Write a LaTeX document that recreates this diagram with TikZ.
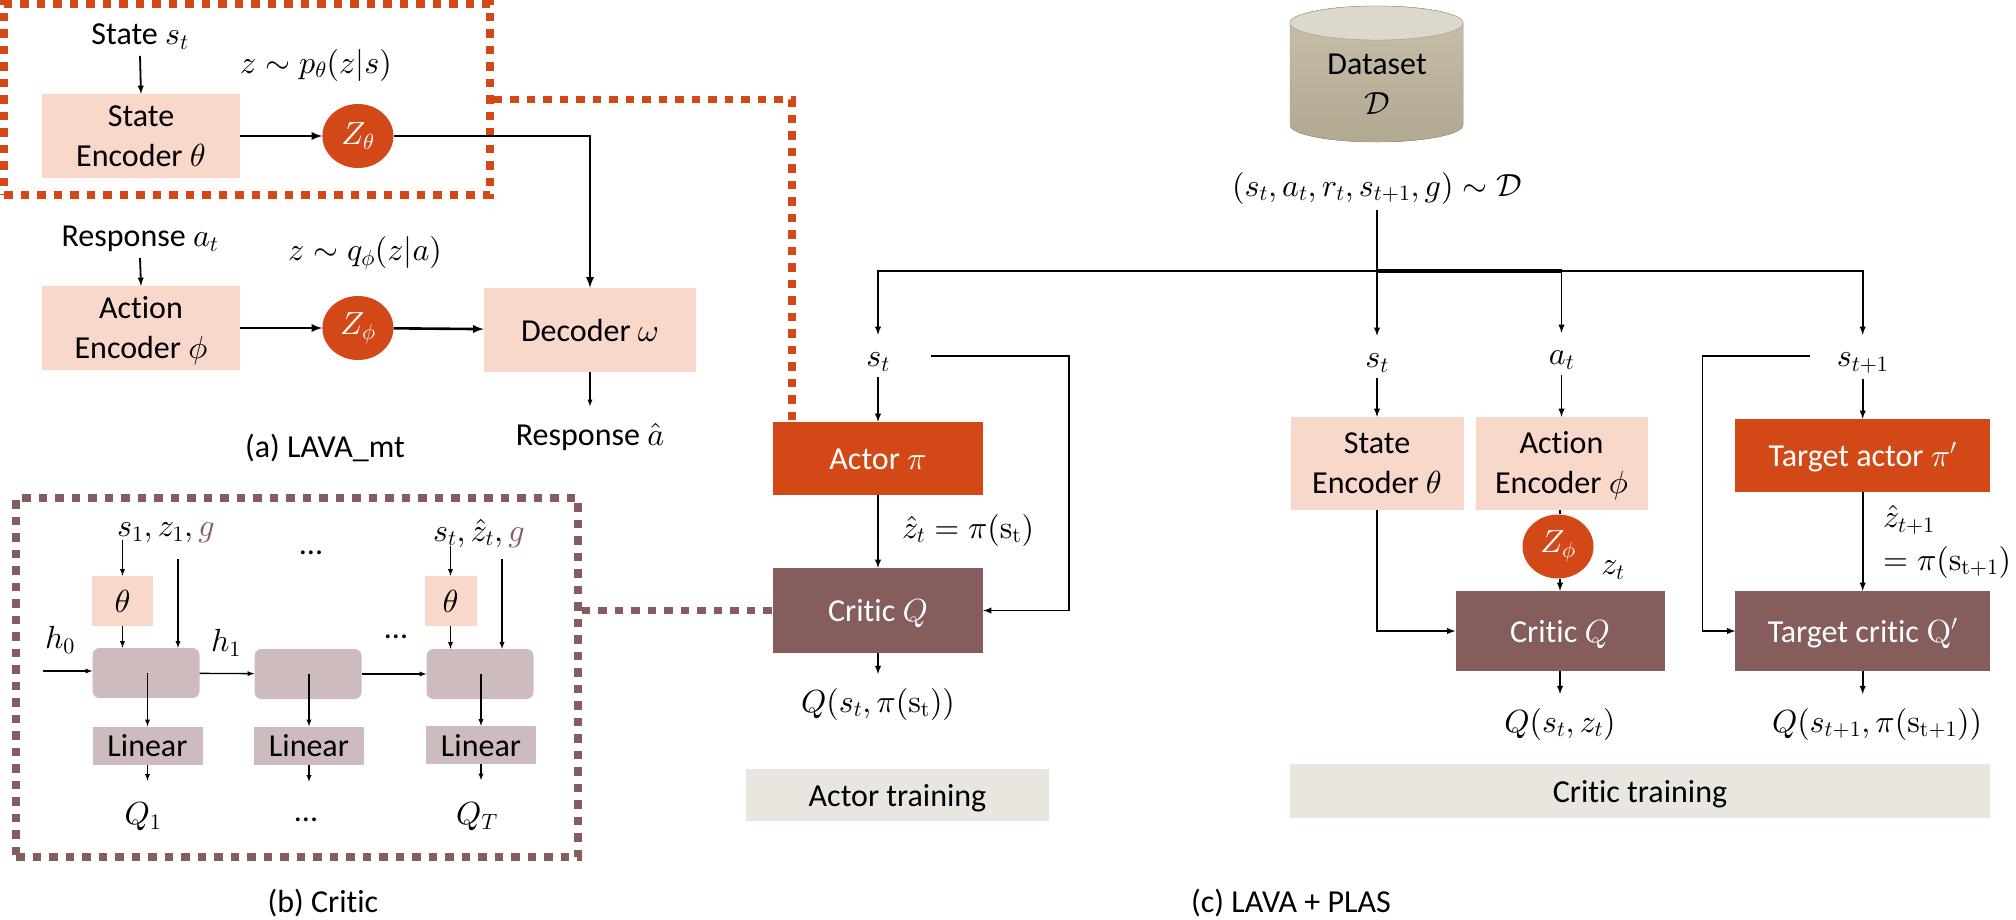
\documentclass[tikz,border=0pt]{standalone}
\usepackage[no-math]{fontspec}
\setmainfont[Ligatures=NoCommon]{Carlito}
\usepackage{amsmath}
\usepackage{amsfonts}
\DeclareFontShape{OML}{cmm}{m}{it}{<->cmmi10}{}
\DeclareFontShape{OMS}{cmsy}{m}{n}{<->cmsy10}{}
\DeclareFontShape{OT1}{cmr}{m}{n}{<->cmr10}{}
\DeclareFontShape{OMX}{cmex}{m}{n}{<->cmex10}{}
\DeclareMathSizes{32}{32}{22}{16}
\usetikzlibrary{positioning,shapes.geometric}
\definecolor{actorc}{HTML}{D34817}
\definecolor{peach}{HTML}{F9D8CC}
\definecolor{criticc}{HTML}{855D5D}
\definecolor{cellc}{HTML}{CEBBBD}
\definecolor{sand}{HTML}{E9E5DF}
\definecolor{dbtop}{HTML}{C9C0AD}
\definecolor{dbbot}{HTML}{B2A78F}
\definecolor{dbcap}{HTML}{DDD8CC}
\definecolor{dbline}{HTML}{A69C85}

\begin{document}
\begin{tikzpicture}[x=1pt,y=-1pt,
				every node/.style={inner sep=0pt,font=\fontsize{32}{40}\selectfont},
				sunk/.style={text height=26pt,text depth=4pt},
				block/.style={rectangle,sunk,minimum width=198pt,minimum height=84pt,align=center},
				enc/.style={block,fill=peach,text height=64pt},
				actor/.style={block,fill=actorc,text=white},
				critic/.style={block,fill=criticc,text=white},
				latent/.style={ellipse,fill=actorc,text=white,minimum width=71pt,minimum height=64pt},
				cell/.style={rectangle,rounded corners=7pt,fill=cellc,minimum width=107pt,minimum height=50pt},
				linear/.style={rectangle,sunk,fill=cellc,minimum width=110pt,minimum height=38pt},
				band/.style={rectangle,sunk,fill=sand},
				term/.style={outer ysep=6pt,outer xsep=0pt},
				value/.style={outer ysep=14pt},
				arrow/.style={-latex,line width=1.8pt},
				thinarrow/.style={-latex,line width=1.3pt},
				heavy/.style={-latex,line width=2.6pt},
				wire/.style={line width=1.8pt},
				redbox/.style={rectangle,draw=actorc,line width=7.5pt,dash pattern=on 8.5pt off 8pt},
				brownbox/.style={rectangle,draw=criticc,line width=7.5pt,dash pattern=on 8.5pt off 8pt}]
				\useasboundingbox (0,0) rectangle (2016,919);

				\node (encS)  [enc] at (141,136)         {State\\Encoder $\theta$};
				\node (zS)    [latent,right=82pt of encS] {$Z_\theta$};
				\node (encR)  [enc] at (141,328)         {Action\\Encoder $\phi$};
				\node (zR)    [latent,right=82pt of encR] {$Z_\phi$};
				\node (dec)   [block,fill=peach,minimum width=212pt] at (590,330) {Decoder $\omega$};
				\node (inS)   [term] at (140,37)         {State $s_t$};
				\node (inR)   [term] at (140,239)        {Response $a_t$};
				\node (outR)  [outer ysep=17pt] at (590,437) {Response $\hat{a}$};
				\node (pS)    at (316,65)                {$z\sim p_\theta(z|s)$};
				\node (pR)    at (365,253)               {$z\sim q_\phi(z|a)$};
				\node (capA)  at (325,448)               {(a) LAVA\_mt};
				\node (boxA)  [redbox,minimum width=486pt,minimum height=191pt] at (247,99.5) {};

				\draw[arrow] (inS.south) -- (encS.north);
				\draw[arrow] (inR.south) -- (encR.north);
				\draw[heavy] (encS) -- (zS);
				\draw[heavy] (encR) -- (zR);
				\draw[heavy] (zR) -- (dec);
				\draw[heavy] (zS) -| (dec.north);
				\draw[thinarrow] (dec.south) -- (outR.north);

				\node (cell1) [cell] at (146,673)        {};
				\node (cell2) [cell] at (308,674)        {};
				\node (cell3) [cell] at (480,674)        {};
				\node (lin1)  [linear] at (147.5,745.5)  {Linear};
				\node (lin2)  [linear] at (309,745.5)    {Linear};
				\node (lin3)  [linear] at (481,745)      {Linear};
				\node (th1)   [rectangle,fill=peach,minimum width=61pt,minimum height=50pt] at (122.5,601) {$\theta$};
				\node (th3)   [rectangle,fill=peach,minimum width=52pt,minimum height=50pt] at (450.5,601) {$\theta$};
				\node (in1)   at (166,533)               {$s_1,z_1,{\color{criticc}g}$};
				\node (in3)   at (479,533)               {$s_t,\hat{z}_t,{\color{criticc}g}$};
				\node (dots1) at (311,553)               {...};
				\node (dots2) at (396,637)               {...};
				\node (dots3) at (306,820)               {...};
				\node (h0)    at (60,640)                {$h_0$};
				\node (h1)    at (226,643)               {$h_1$};
				\node (q1)    at (143,817)               {$Q_1$};
				\node (qT)    at (477,817)               {$Q_T$};
				\node (capB)  at (323,903)               {(b) Critic};
				\node (boxB)  [brownbox,minimum width=562pt,minimum height=359pt] at (297,677.5) {};
				\coordinate (start0) at (43,671);
				\coordinate (tap1) at (178,559);
				\coordinate (tap3) at (502,559);

				\draw[thinarrow] (in1.south -| th1) ++(0,-3) -- (th1.north);
				\draw[thinarrow] (in3.south -| th3) ++(0,-1) -- (th3.north);
				\draw[thinarrow] (tap1) -- (tap1 |- cell1.north);
				\draw[thinarrow] (tap3) -- (tap3 |- cell3.north);
				\draw[thinarrow] (th1) -- (th1 |- cell1.north);
				\draw[thinarrow] (th3) -- (th3 |- cell3.north);
				\draw[thinarrow] (start0) -- (start0 -| cell1.west);
				\draw[thinarrow] (cell1) -- (cell2);
				\draw[thinarrow] (cell2) -- (cell3);
				\draw[thinarrow] (cell1 -| lin1) -- (lin1);
				\draw[thinarrow] (cell2 -| lin2) -- (lin2);
				\draw[thinarrow] (cell3 -| lin3) -- (lin3);
				\draw[thinarrow] (lin1.south) -- ++(0,16);
				\draw[thinarrow] (lin2.south) -- ++(0,17);
				\draw[thinarrow] (lin3.south) -- ++(0,16);

				\fill[top color=dbtop,bottom color=dbbot,draw=dbline] (1290,23) -- (1290,125) arc[start angle=180,end angle=360,x radius=86.5pt,y radius=17pt] -- (1463,23) arc[start angle=0,end angle=180,x radius=86.5pt,y radius=17pt];
				\filldraw[fill=dbcap,draw=dbline] (1376.5,23) ellipse [x radius=86.5pt,y radius=17pt];
				\node (db1)   at (1377,64)               {Dataset};
				\node (db2)   at (1377,104)              {$\mathcal{D}$};
				\node (batch) [term] at (1377,188)       {$(s_t,a_t,r_t,s_{t+1},g)\sim\mathcal{D}$};
				\coordinate (branch) at (1377,271);

				\node (actA)  [actor,minimum width=210pt,minimum height=73pt] at (878,458.5) {Actor $\pi$};
				\node (crA)   [critic,minimum width=210pt,minimum height=85pt] at (878,610.5) {Critic $Q$};
				\node (sA)    [term] at (878,362)        {$s_t$};
				\node (zhat)  at (968,530)               {$\hat{z}_t=\pi(\mathrm{s_t})$};
				\node (qA)    [value] at (878,704)       {$Q(s_t,\pi(\mathrm{s_t}))$};
				\node (bandA) [band,minimum width=303pt,minimum height=52pt] at (897.5,795) {Actor training};
				\coordinate (tapA) at (930.6,356);
				\coordinate (turnA) at (1068.6,356);

				\node (encC)  [enc,minimum width=173pt,minimum height=93pt] at (1377,463.5) {State\\Encoder $\theta$};
				\node (encD)  [enc,minimum width=172pt,minimum height=93pt] at (1561.5,463.5) {Action\\Encoder $\phi$};
				\node (zC)    [latent] at (1558,546.5)   {$Z_\phi$};
				\node (crC)   [critic,minimum width=209pt,minimum height=80pt] at (1560,631) {Critic $Q$};
				\node (sC)    [term] at (1377,363)       {$s_t$};
				\node (aC)    [term] at (1561.5,360)     {$a_t$};
				\node (ztC)   at (1613,570)              {$z_t$};
				\node (qC)    [value] at (1560,724)      {$Q(s_t,z_t)$};

				\node (actT)  [actor,minimum width=254.5pt,minimum height=73pt] at (1862.7,455.5) {Target actor $\pi'$};
				\node (crT)   [critic,minimum width=254.5pt,minimum height=80pt] at (1862.7,631) {Target critic $\mathrm{Q}'$};
				\node (sT)    [term] at (1862.7,363)     {$s_{t+1}$};
				\node (zhT1)  [anchor=west] at (1883,520) {$\hat{z}_{t+1}$};
				\node (zhT2)  [anchor=west] at (1883,562) {$=\pi(\mathrm{s_{t+1}})$};
				\node (qT2)   [value] at (1877,724)      {$Q(s_{t+1},\pi(\mathrm{s_{t+1}}))$};
				\node (bandC) [band,minimum width=700pt,minimum height=54pt] at (1640,791) {Critic training};
				\node (capC)  at (1291,903)              {(c) LAVA + PLAS};
				\coordinate (tapT) at (1810,356);
				\coordinate (turnT) at (1702.5,356);

				\draw[redbox,draw=actorc] (boxA.east) -- (792,99.5) -- (792,422);
				\draw[brownbox,draw=criticc] (boxB.east |- crA) -- (crA.west);

				\draw[wire] (batch.south) -- (branch);
				\draw[arrow,shorten >=12pt] (branch) -| (sA.north);
				\draw[arrow,shorten >=12pt] (branch) -- (sC.north);
				\draw[arrow,shorten >=12pt] (branch) -| (aC.north);
				\draw[arrow,shorten >=12pt] (branch) -| (sT.north);
				\draw[line width=4pt] (branch) -- (branch -| aC);

				\draw[arrow] (sA.south) -- (actA.north);
				\draw[arrow] (actA.south) -- (crA.north);
				\draw[arrow] (tapA) -- (turnA) |- (crA.east);
				\draw[arrow] (crA.south) -- (qA.north);

				\draw[arrow] (sC.south) -- (encC.north);
				\draw[arrow] (aC.south) -- (encD.north);
				\draw[wire] (encD.south -| crC) -- (crC |- zC.north);
				\draw[arrow] (crC |- zC.south) -- (crC.north);
				\draw[arrow] (encC.south) |- (crC.west);
				\draw[arrow] (crC.south) -- (qC.north);

				\draw[arrow] (sT.south) -- (actT.north);
				\draw[arrow] (actT.south) -- (crT.north);
				\draw[arrow] (tapT) -- (turnT) |- (crT.west);
				\draw[arrow] (crT.south) -- (crT.south |- qT2.north);
			\end{tikzpicture}
\end{document}
